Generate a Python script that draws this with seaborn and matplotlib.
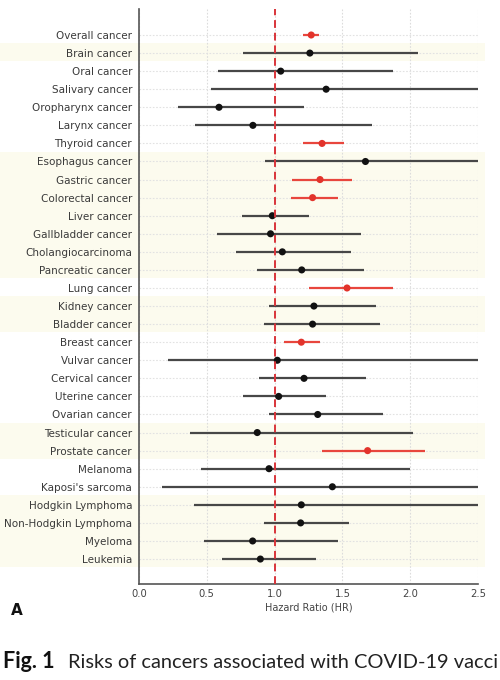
import numpy as np
import pandas as pd
import matplotlib
matplotlib.use("Agg")
import matplotlib.pyplot as plt
import seaborn as sns

categories = ["Overall cancer", "Brain cancer", "Oral cancer", "Salivary cancer",
              "Oropharynx cancer", "Larynx cancer", "Thyroid cancer", "Esophagus cancer",
              "Gastric cancer", "Colorectal cancer", "Liver cancer", "Gallbladder cancer",
              "Cholangiocarcinoma", "Pancreatic cancer", "Lung cancer", "Kidney cancer",
              "Bladder cancer", "Breast cancer", "Vulvar cancer", "Cervical cancer",
              "Uterine cancer", "Ovarian cancer", "Testicular cancer", "Prostate cancer",
              "Melanoma", "Kaposi's sarcoma", "Hodgkin Lymphoma", "Non-Hodgkin Lymphoma",
              "Myeloma", "Leukemia"]
hr = [1.27, 1.26, 1.045, 1.38, 0.59, 0.84, 1.35, 1.67, 1.335, 1.28, 0.983, 0.97,
      1.057, 1.20, 1.534, 1.29, 1.28, 1.197, 1.02, 1.217, 1.03, 1.318, 0.872, 1.686,
      0.959, 1.426, 1.197, 1.192, 0.838, 0.895]
ci_low = [1.21, 0.77, 0.585, 0.53, 0.29, 0.41, 1.21, 0.93, 1.13, 1.12, 0.76, 0.577,
          0.715, 0.87, 1.256, 0.956, 0.92, 1.07, 0.216, 0.887, 0.767, 0.961, 0.376, 1.347,
          0.457, 0.17, 0.408, 0.922, 0.48, 0.61]
ci_high = [1.33, 2.06, 1.87, 2.5, 1.215, 1.72, 1.51, 2.5, 1.57, 1.465, 1.256, 1.635,
           1.563, 1.66, 1.87, 1.748, 1.78, 1.337, 2.5, 1.672, 1.377, 1.80, 2.023, 2.107,
           2.0, 2.5, 2.5, 1.546, 1.47, 1.305]
significant = [True, False, False, False, False, False, True, False, True, True, False, False,
               False, False, True, False, False, True, False, False, False, False, False, True,
               False, False, False, False, False, False]
# shaded row groups (first row, last row)
band_groups = [(1, 1), (7, 13), (15, 16), (22, 23), (26, 29)]
x_ticks = [0.0, 0.5, 1.0, 1.5, 2.0, 2.5]
caption_bold = "Fig. 1"
caption_text = "Risks of cancers associated with COVID-19 vacci"

df = pd.DataFrame({"cancer": categories, "hr": hr, "lo": ci_low, "hi": ci_high,
                   "sig": ["yes" if s else "no" for s in significant]})
df["pos"] = np.arange(len(df))

sns.set_style("white")
plt.rcParams["font.family"] = ["DejaVu Sans"]

fig = plt.figure(figsize=(5, 6.8), dpi=100)
ax = fig.add_axes([0.278, 0.1412, 0.678, 0.8456])

n = len(df)
ax.set_xlim(0, 2.5)
ax.set_ylim(n - 1 + 1.38, -1.44)

for a, b in band_groups:
    ax.axhspan(a - 0.5 - 0.05, b + 0.5 - 0.05, xmin=-0.42, xmax=1.02,
               color="#fcfbee", zorder=0, clip_on=False, lw=0)

for x in x_ticks:
    ax.axvline(x, color="#dcdcdc", lw=0.8, ls=(0, (1.5, 1.5)), zorder=1)
for p in df["pos"]:
    ax.axhline(p, color="#e2e2e2", lw=0.8, ls=(0, (1.5, 1.5)), zorder=1)

colors = {"yes": "#e2332b", "no": "#111111"}
line_colors = {"yes": "#e8463d", "no": "#474747"}
for _, r in df.iterrows():
    ax.hlines(r["pos"], r["lo"], r["hi"], color=line_colors[r["sig"]], lw=1.6, zorder=2)

sns.scatterplot(data=df, x="hr", y="pos", hue="sig", palette=colors, s=26,
                edgecolor="none", legend=False, ax=ax, zorder=3)

ax.axvline(1.0, color="#d9343a", lw=1.4, ls=(0, (4, 2.5)), zorder=4)

ax.set_yticks(df["pos"])
ax.set_yticklabels(categories, fontsize=7.45, color="#3a3a3a")
ax.set_xticks(x_ticks)
ax.set_xticklabels([f"{t:.1f}" for t in x_ticks], fontsize=7.2, color="#444444")
ax.tick_params(axis="y", length=3, width=0.8, color="#888888", pad=2)
ax.tick_params(axis="x", length=0, pad=3.5)
ax.set_xlabel("Hazard Ratio (HR)", fontsize=7, color="#444444", labelpad=2.5)
ax.set_ylabel("")

for s in ["top", "right"]:
    ax.spines[s].set_visible(False)
for s in ["left", "bottom"]:
    ax.spines[s].set_color("#555555")
    ax.spines[s].set_linewidth(1.2)

fig.text(0.022, 0.102, "A", fontsize=11, fontweight="bold", color="#111111", va="center")

fig.text(0.006, 0.0176, caption_bold, fontsize=15.5, fontweight="bold", color="#111111",
         va="baseline", family=["Lato", "DejaVu Sans"])
fig.text(0.136, 0.0176, caption_text,
         fontsize=14.4, color="#222222", va="baseline", family=["Lato", "DejaVu Sans"])

fig.savefig("out.png", dpi=100)
